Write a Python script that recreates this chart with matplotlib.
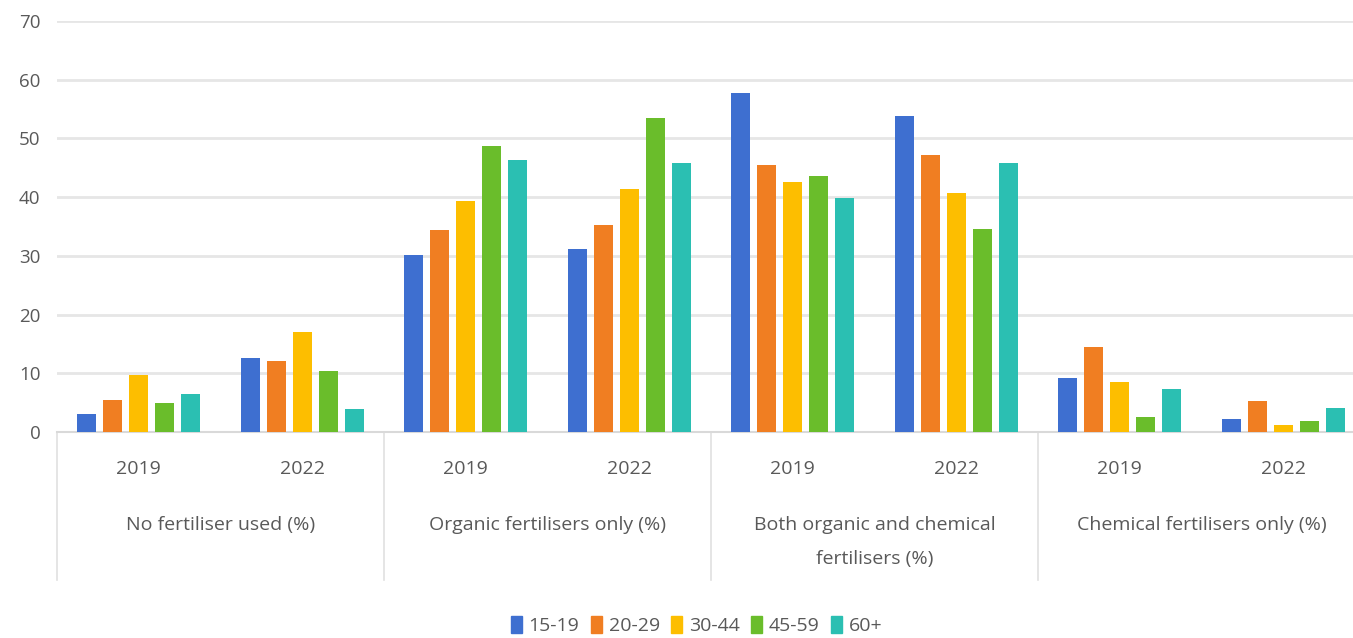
import numpy as np
import matplotlib
matplotlib.use("Agg")
import matplotlib.pyplot as plt
from matplotlib.patches import Patch

plt.rcParams['font.family'] = ['Open Sans', 'DejaVu Sans']

categories = ["No fertiliser used (%)", "Organic fertilisers only (%)",
              "Both organic and chemical\nfertilisers (%)", "Chemical fertilisers only (%)"]
years = ["2019", "2022"]
ages = ["15-19", "20-29", "30-44", "45-59", "60+"]
colors = ["#3E6FD0", "#F07E22", "#FDBE00", "#6ABD2B", "#2BBFB2"]

# one list per age band, order: cat1-2019, cat1-2022, cat2-2019, ...
v_15_19 = [3.1, 12.6, 30.2, 31.2, 57.8, 53.8, 9.2, 2.2]
v_20_29 = [5.5, 12.1, 34.4, 35.3, 45.5, 47.2, 14.5, 5.3]
v_30_44 = [9.7, 17.0, 39.4, 41.4, 42.6, 40.7, 8.5, 1.2]
v_45_59 = [4.9, 10.4, 48.7, 53.5, 43.6, 34.6, 2.6, 1.9]
v_60 = [6.5, 3.9, 46.3, 45.8, 39.9, 45.8, 7.3, 4.1]
series = [v_15_19, v_20_29, v_30_44, v_45_59, v_60]

fig = plt.figure(figsize=(13.53, 6.38), dpi=100)
ax = fig.add_axes([57/1353, 206/638, 1308/1353, 411/638])

x = np.arange(8)
pitch = 26/163.5
width = 19/163.5
for i, vals in enumerate(series):
    ax.bar(x + (i - 2)*pitch, vals, width, color=colors[i], zorder=3)

ax.set_xlim(-0.5, 7.5)
ax.set_ylim(0, 70)
ax.set_yticks(range(0, 71, 10))
ax.yaxis.grid(True, color="#e6e6e6", linewidth=2, zorder=0)
ax.tick_params(axis='y', length=0, labelsize=13.5, labelcolor="#595959", pad=12)
ax.set_xticks([])
for s in ["top", "right", "left"]:
    ax.spines[s].set_visible(False)
ax.spines["bottom"].set_color("#d9d9d9")
ax.spines["bottom"].set_linewidth(1.5)

tr = ax.get_xaxis_transform()
for k in range(8):
    ax.text(k, -0.09, years[k % 2], transform=tr, ha="center", va="center",
            fontsize=14, color="#595959")
for c, name in enumerate(categories):
    ax.text(2*c + 0.5, -0.205, name, transform=tr, ha="center", va="top",
            fontsize=14, color="#595959", linespacing=2.15)
for b in [-0.5, 1.5, 3.5, 5.5]:
    ax.plot([b, b], [0, -0.36], transform=tr, color="#e0e0e0", lw=1.2, clip_on=False)

handles = [Patch(color=colors[i], label=ages[i]) for i in range(5)]
fig.legend(handles=handles, loc="center", bbox_to_anchor=(0.515, 0.02), ncol=5,
           frameon=False, fontsize=14, handlelength=0.55, handleheight=1.0,
           handletextpad=0.35, columnspacing=0.6, labelcolor="#595959")

fig.savefig("out.png", dpi=100)
